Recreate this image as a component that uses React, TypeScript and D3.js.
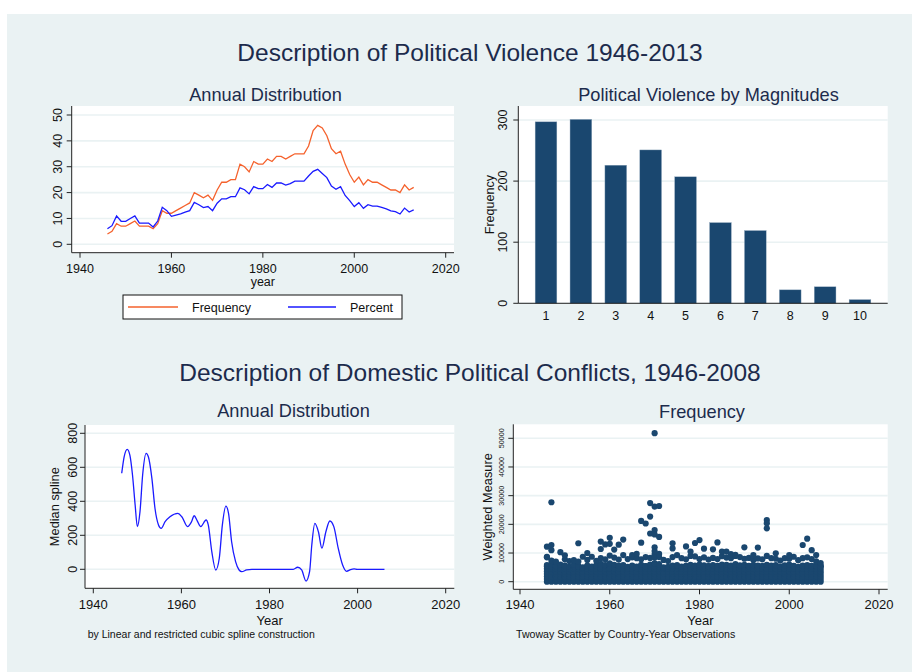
import React from 'react';
import * as d3 from 'd3';

// ---------- DATA ----------
const annualYears: number[] = d3.range(1946, 2014);
const frequencyValues: number[] = [
  4, 5, 8, 7, 7, 8, 9, 7, 7, 7, 6, 8, 13, 12, 12, 13, 14, 15, 16, 20,
  19, 18, 19, 17, 21, 24, 24, 25, 25, 31, 30, 28, 32, 31, 31, 33, 32, 34, 34, 33,
  34, 35, 35, 35, 38, 44, 46, 45, 42, 37, 35, 36, 31, 27, 24, 26, 23, 25, 24, 24,
  23, 22, 21, 21, 20, 23, 21, 22,
];
const percentValues: number[] = [
  6, 7.2, 11, 8.9, 8.9, 10, 11, 8.2, 8.2, 8.2, 6.7, 9, 14.3, 13, 10.8, 11.3, 11.8, 12.4, 13, 16.2,
  15.3, 14.2, 14.6, 13, 15.9, 17.6, 17.6, 18.4, 18.4, 21.8, 21.1, 19.5, 22.3, 21.5, 21.5, 23.1, 22, 23.7, 23.7, 22.9,
  23.5, 24.4, 24.4, 24.4, 26.4, 28.2, 29, 27.4, 25.8, 22.5, 21.3, 22.3, 18.9, 16.9, 14.6, 16.1, 13.9, 15.3, 14.8, 14.8,
  14.3, 13.7, 12.9, 12.6, 11.7, 14, 12.5, 13.3,
];
const lineTicksY1: number[] = [0, 10, 20, 30, 40, 50];
const yearTicks: number[] = [1940, 1960, 1980, 2000, 2020];

const magnitudes: number[] = [1, 2, 3, 4, 5, 6, 7, 8, 9, 10];
const magnitudeFreq: number[] = [297, 301, 226, 251, 207, 132, 119, 22, 27, 6];
const barTicksY: number[] = [0, 100, 200, 300];

const splineYears: number[] = [
  1946.45, 1947.0, 1947.7, 1948.3, 1948.9, 1949.5, 1950.0, 1950.6, 1951.2, 1952.0,
  1952.5, 1953.3, 1954.0, 1954.8, 1955.4, 1956.3, 1957.4, 1959.2, 1960.1, 1961.4,
  1962.3, 1962.9, 1963.6, 1964.4, 1965.6, 1966.1, 1966.9, 1967.8, 1968.6, 1969.3,
  1970.1, 1970.7, 1971.4, 1972.3, 1973.1, 1973.7, 1974.8, 1976.0, 1984.7, 1985.4,
  1986.4, 1987.3, 1988.3, 1989.1, 1989.6, 1990.3, 1991.1, 1991.9, 1992.8, 1993.7,
  1994.6, 1995.6, 1996.6, 1997.5, 1998.4, 1999.2, 1999.9, 2006.1,
];
const splineValues: number[] = [
  565, 662, 706, 672, 555, 378, 251, 339, 555, 682,
  662, 535, 359, 261, 241, 280, 309, 329, 309, 251,
  280, 315, 285, 251, 290, 261, 104, -4, 65, 261,
  372, 329, 162, 45, -4, -14, -4, 0, 0, 0,
  12, -4, -69, -14, 143, 270, 221, 124, 221, 284,
  251, 124, 25, -12, -2, 2, 0, 0,
];
const splineTicksY: number[] = [0, 200, 400, 600, 800];

// Top of the dense cloud of country-year observations, per year 1946-2007
const scatterYears: number[] = d3.range(1946, 2008);
const denseTop: number[] = [
  5800, 6200, 5500, 6000, 5600, 5200, 5900, 5400, 5000, 5600,
  5300, 5700, 6200, 5800, 6300, 5900, 5500, 5800, 5200, 5600,
  5300, 5900, 5400, 6000, 6400, 6100, 5000, 5200, 5600, 5800,
  5300, 5500, 5900, 5600, 6000, 5700, 5400, 5800, 5500, 6000,
  5900, 5600, 6100, 5700, 5900, 5500, 5800, 5600, 5400, 5900,
  5600, 5800, 5300, 5700, 6000, 5500, 5200, 5600, 5800, 5500,
  5600, 5400,
];
// Individual observations above the dense cloud: [year, weighted measure]
const scatterPoints: [number, number][] = [
  [1946, 8700], [1947, 7400], [1948, 7000], [1950, 7800], [1951, 7200], [1952, 7500], [1953, 7000],
  [1954, 8700], [1955, 7600], [1956, 8700], [1957, 7300], [1958, 8200], [1959, 7800], [1960, 9100],
  [1961, 8400], [1962, 7700], [1963, 9300], [1964, 7900], [1965, 8500], [1966, 8200], [1967, 7800],
  [1968, 8600], [1969, 8300], [1970, 9500], [1970, 8400], [1971, 9700], [1971, 8600], [1972, 7600],
  [1973, 7200], [1974, 8600], [1976, 8200], [1977, 7800], [1978, 9000], [1979, 8800], [1980, 7900],
  [1981, 8500], [1982, 7700], [1983, 8300], [1984, 7900], [1985, 8900], [1986, 8400], [1987, 8200],
  [1988, 9000], [1989, 8600], [1990, 8000], [1991, 8300], [1992, 7600], [1993, 8100], [1994, 7800],
  [1996, 8200], [1997, 8000], [1998, 7400], [1999, 8200], [2000, 8000], [2001, 8700], [2002, 7500],
  [2003, 8200], [2004, 8500], [2005, 7900], [2006, 7100], [2007, 6500],
  [1947, 27700], [1946, 12200], [1947, 12800], [1946, 8500], [1947, 11000], [1949, 10300], [1950, 9200],
  [1953, 13400], [1955, 10000], [1958, 11400], [1958, 14000], [1959, 13000], [1960, 15300], [1960, 13200],
  [1961, 11200], [1962, 12900], [1963, 14700], [1965, 9300], [1966, 9700], [1967, 21200], [1967, 13600],
  [1968, 20300], [1969, 27400], [1969, 22700], [1969, 16800], [1970, 51800], [1970, 26200], [1970, 18000],
  [1970, 16500], [1970, 12000], [1970, 10700], [1971, 26400], [1971, 15600], [1974, 13400], [1974, 11600],
  [1975, 9300], [1977, 12300], [1978, 10500], [1979, 13500], [1980, 14500], [1981, 11500], [1983, 11300],
  [1984, 13700], [1985, 10500], [1986, 10500], [1987, 9600], [1988, 9400], [1990, 12000], [1992, 9300],
  [1993, 11900], [1995, 21500], [1995, 20400], [1995, 18600], [1995, 9000], [1997, 9900], [2000, 9300],
  [2003, 12800], [2004, 15000], [2005, 11000], [2006, 9300],
];
const scatterTicksY: number[] = [0, 10000, 20000, 30000, 40000, 50000];

// ---------- STYLE ----------
const BG = '#eaf2f3';
const NAVY = '#1a476f';
const TITLE = '#1c2b4c';
const ORANGE = '#f5622d';
const BLUE = '#1a1aff';
const FONT = '"Liberation Sans", Arial, Helvetica, sans-serif';

type Box = { l: number; r: number; t: number; b: number };

function Frame({ box, ticksY, yScale }: { box: Box; ticksY: number[]; yScale: (v: number) => number }) {
  return (
    <g>
      <rect x={box.l} y={box.t} width={box.r - box.l} height={box.b - box.t} fill="#fff" />
      {ticksY.map((t) => (
        <line key={t} x1={box.l} x2={box.r} y1={yScale(t)} y2={yScale(t)} stroke={BG} strokeWidth={1.6} />
      ))}
    </g>
  );
}

function Axes({ box }: { box: Box }) {
  return (
    <g stroke="#222" strokeWidth={1}>
      <line x1={box.l} x2={box.l} y1={box.t} y2={box.b} />
      <line x1={box.l} x2={box.r} y1={box.b} y2={box.b} />
    </g>
  );
}

function YTicks({ box, ticks, yScale, labelX, size }: { box: Box; ticks: number[]; yScale: (v: number) => number; labelX: number; size: number }) {
  return (
    <g>
      {ticks.map((t) => (
        <g key={t}>
          <line x1={box.l - 5} x2={box.l} y1={yScale(t)} y2={yScale(t)} stroke="#222" />
          <text
            transform={`translate(${labelX},${yScale(t)}) rotate(-90)`}
            textAnchor="middle"
            fontSize={size}
            fill="#111"
          >
            {String(t)}
          </text>
        </g>
      ))}
    </g>
  );
}

function XTicks({ box, ticks, xScale, labelY, size, marks = true }: { box: Box; ticks: number[]; xScale: (v: number) => number; labelY: number; size: number; marks?: boolean }) {
  return (
    <g>
      {ticks.map((t) => (
        <g key={t}>
          {marks && <line x1={xScale(t)} x2={xScale(t)} y1={box.b} y2={box.b + 5} stroke="#222" />}
          <text x={xScale(t)} y={labelY} textAnchor="middle" fontSize={size} fill="#111">
            {t}
          </text>
        </g>
      ))}
    </g>
  );
}

export default function App() {
  // ---- Panel 1: annual distribution lines ----
  const b1: Box = { l: 71.7, r: 454, t: 106, b: 252.7 };
  const x1 = d3.scaleLinear().domain([1940, 2020]).range([80, 445.7]);
  const y1 = d3.scaleLinear().domain([0, 50]).range([244.3, 115]);
  const lineGen = d3
    .line<[number, number]>()
    .x((d) => x1(d[0]))
    .y((d) => y1(d[1]));
  const freqPath = lineGen(annualYears.map((y, i) => [y, frequencyValues[i]] as [number, number])) || '';
  const pctPath = lineGen(annualYears.map((y, i) => [y, percentValues[i]] as [number, number])) || '';

  // ---- Panel 2: bars ----
  const b2: Box = { l: 518.3, r: 887.7, t: 106, b: 303.3 };
  const x2 = d3.scaleLinear().domain([1, 10]).range([546, 860]);
  const y2 = d3.scaleLinear().domain([0, 300]).range([303.3, 120]);
  const barW = 21.7;

  // ---- Panel 3: spline ----
  const b3: Box = { l: 85, r: 454.3, t: 425, b: 588.3 };
  const x3 = d3.scaleLinear().domain([1940, 2020]).range([93.3, 445.7]);
  const y3 = d3.scaleLinear().domain([0, 800]).range([569.3, 433.3]);
  const splinePath =
    d3
      .line<[number, number]>()
      .x((d) => x3(d[0]))
      .y((d) => y3(d[1]))
      .curve(d3.curveMonotoneX)(splineYears.map((y, i) => [y, splineValues[i]] as [number, number])) || '';

  // ---- Panel 4: scatter ----
  const b4: Box = { l: 513.3, r: 887.7, t: 424.3, b: 589.3 };
  const x4 = d3.scaleLinear().domain([1940, 2020]).range([520, 879]);
  const y4 = d3.scaleLinear().domain([0, 50000]).range([581.7, 438.3]);
  const dense: [number, number][] = [];
  scatterYears.forEach((yr, i) => {
    for (let v = 0; v <= denseTop[i]; v += 900) dense.push([yr, v]);
    dense.push([yr, denseTop[i]]);
  });

  return (
    <svg
      width={912}
      height={672}
      style={{ position: 'absolute', left: 0, top: 0, fontFamily: FONT }}
      fontFamily={FONT}
    >
      <rect x={0} y={0} width={912} height={672} fill="#fff" />
      <rect x={7} y={14} width={905} height={658} fill={BG} />

      {/* main titles */}
      <text x={470} y={61} textAnchor="middle" fontSize={24.5} fill={TITLE}>
        Description of Political Violence 1946-2013
      </text>
      <text x={470} y={381} textAnchor="middle" fontSize={24.5} fill={TITLE}>
        Description of Domestic Political Conflicts, 1946-2008
      </text>

      {/* ---------- Panel 1 ---------- */}
      <text x={265.5} y={101} textAnchor="middle" fontSize={18.2} fill={TITLE}>
        Annual Distribution
      </text>
      <Frame box={b1} ticksY={lineTicksY1} yScale={y1} />
      <path d={freqPath} fill="none" stroke={ORANGE} strokeWidth={1.3} />
      <path d={pctPath} fill="none" stroke={BLUE} strokeWidth={1.3} />
      <Axes box={b1} />
      <YTicks box={b1} ticks={lineTicksY1} yScale={y1} labelX={62} size={12.5} />
      <XTicks box={b1} ticks={yearTicks} xScale={x1} labelY={273} size={12.5} />
      <text x={(b1.l + b1.r) / 2} y={286} textAnchor="middle" fontSize={12.5} fill="#111">
        year
      </text>
      <g>
        <rect x={123} y={295} width={279} height={24} fill="#fff" stroke="#111" strokeWidth={1} />
        <line x1={128} x2={178} y1={307} y2={307} stroke={ORANGE} strokeWidth={1.3} />
        <text x={192} y={311.5} fontSize={12.5} fill="#111">
          Frequency
        </text>
        <line x1={288} x2={336} y1={307} y2={307} stroke={BLUE} strokeWidth={1.3} />
        <text x={350} y={311.5} fontSize={12.5} fill="#111">
          Percent
        </text>
      </g>

      {/* ---------- Panel 2 ---------- */}
      <text x={708.5} y={101} textAnchor="middle" fontSize={18.2} fill={TITLE}>
        Political Violence by Magnitudes
      </text>
      <Frame box={b2} ticksY={barTicksY} yScale={y2} />
      {magnitudes.map((m, i) => (
        <rect
          key={m}
          x={x2(m) - barW / 2}
          y={y2(magnitudeFreq[i])}
          width={barW}
          height={y2(0) - y2(magnitudeFreq[i])}
          fill={NAVY}
          stroke="#8fa6bb"
          strokeWidth={0.4}
        />
      ))}
      <Axes box={b2} />
      <YTicks box={b2} ticks={barTicksY} yScale={y2} labelX={507} size={12.5} />
      <XTicks box={b2} ticks={magnitudes} xScale={x2} labelY={320} size={12.5} marks={false} />
      <text transform={`translate(493.5,${(b2.t + b2.b) / 2}) rotate(-90)`} textAnchor="middle" fontSize={12.5} fill="#111">
        Frequency
      </text>

      {/* ---------- Panel 3 ---------- */}
      <text x={293.5} y={417} textAnchor="middle" fontSize={18.2} fill={TITLE}>
        Annual Distribution
      </text>
      <Frame box={b3} ticksY={splineTicksY} yScale={y3} />
      <path d={splinePath} fill="none" stroke={BLUE} strokeWidth={1.3} />
      <Axes box={b3} />
      <YTicks box={b3} ticks={splineTicksY} yScale={y3} labelX={77} size={12.5} />
      <XTicks box={b3} ticks={yearTicks} xScale={x3} labelY={609} size={13} />
      <text transform={`translate(59,${(b3.t + b3.b) / 2}) rotate(-90)`} textAnchor="middle" fontSize={12.8} fill="#111">
        Median spline
      </text>
      <text x={(b3.l + b3.r) / 2} y={624.5} textAnchor="middle" fontSize={13} fill="#111">
        Year
      </text>
      <text x={87.7} y={637.5} fontSize={10.5} fill="#111">
        by Linear and restricted cubic spline construction
      </text>

      {/* ---------- Panel 4 ---------- */}
      <text x={702} y={418} textAnchor="middle" fontSize={18.2} fill={TITLE}>
        Frequency
      </text>
      <Frame box={b4} ticksY={scatterTicksY} yScale={y4} />
      <g fill={NAVY}>
        {dense.map((d, i) => (
          <circle key={'d' + i} cx={x4(d[0])} cy={y4(d[1])} r={3.1} />
        ))}
        {scatterPoints.map((d, i) => (
          <circle key={'p' + i} cx={x4(d[0])} cy={y4(d[1])} r={3.1} />
        ))}
      </g>
      <Axes box={b4} />
      <YTicks box={b4} ticks={scatterTicksY} yScale={y4} labelX={503.5} size={7.2} />
      <XTicks box={b4} ticks={yearTicks} xScale={x4} labelY={609} size={13} />
      <text transform={`translate(491.5,${(b4.t + b4.b) / 2}) rotate(-90)`} textAnchor="middle" fontSize={12.8} fill="#111">
        Weighted Measure
      </text>
      <text x={(b4.l + b4.r) / 2} y={624.5} textAnchor="middle" fontSize={13} fill="#111">
        Year
      </text>
      <text x={516} y={637.5} fontSize={10.6} fill="#111">
        Twoway Scatter by Country-Year Observations
      </text>
    </svg>
  );
}
